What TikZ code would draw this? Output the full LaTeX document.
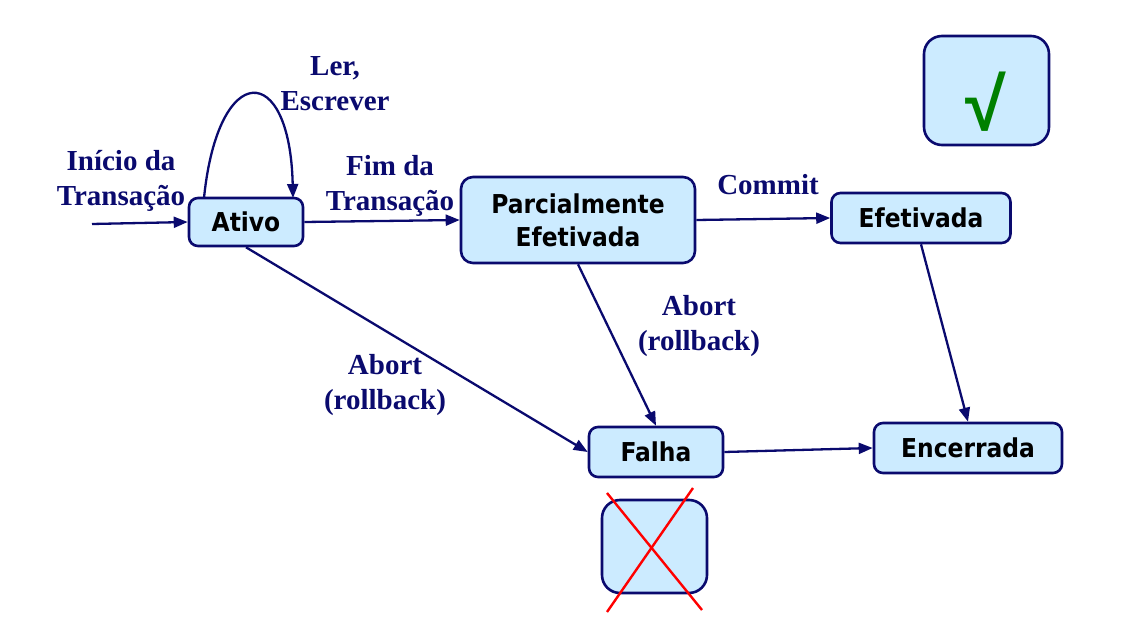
\documentclass[tikz,border=0pt]{standalone}
\usepackage{fontspec}
\setmainfont{Liberation Serif}
\newfontfamily\boxfont{DejaVu Sans Condensed}
\newfontfamily\symfont{Liberation Sans}
\usetikzlibrary{arrows.meta}
\definecolor{navy}{RGB}{10,10,110}
\definecolor{boxfill}{RGB}{204,235,255}
\definecolor{chk}{RGB}{0,128,0}
\tikzset{
  state/.style={draw=navy, line width=2.6pt, fill=boxfill, rounded corners=9pt, inner sep=0pt,
    font=\boxfont\bfseries\fontsize{26}{33}\selectfont, text=black, align=center},
  bigbox/.style={draw=navy, line width=2.6pt, fill=boxfill, rounded corners=18pt, inner sep=0pt},
  lbl/.style={font=\bfseries\fontsize{29}{35}\selectfont, text=navy, align=center, inner sep=0pt},
  conn/.style={draw=navy, line width=2.3pt, -{Triangle[length=14pt,width=11pt]}}
}
\begin{document}
\begin{tikzpicture}[x=1pt,y=-1pt]
\useasboundingbox (0,0) rectangle (1135,628);
% states
\node[state, minimum width=114pt, minimum height=48pt] (ativo) at (246,222) {Ativo};
\node[state, minimum width=234pt, minimum height=86pt, rounded corners=12pt] (parc) at (578,220) {Parcialmente\\Efetivada};
\node[state, minimum width=179pt, minimum height=50pt] (efet) at (921,218) {Efetivada};
\node[state, minimum width=188pt, minimum height=50pt] (enc) at (968,448) {Encerrada};
\node[state, minimum width=134pt, minimum height=50pt] (falha) at (656,452) {Falha};
% decorative boxes
\node[bigbox, minimum width=125pt, minimum height=109pt] (okbox) at (986.5,90.5) {};
\node[font=\symfont\bfseries\fontsize{74}{74}\selectfont, text=chk, inner sep=0pt] (okmark) at (986,102) {√};
\node[bigbox, minimum width=105pt, minimum height=93pt] (xbox) at (654.5,546.5) {};
\coordinate (x1a) at (607,493);
\coordinate (x1b) at (702,610);
\coordinate (x2a) at (693,488);
\coordinate (x2b) at (607,612);
\draw[red, line width=2.4pt] (x1a) -- (x1b);
\draw[red, line width=2.4pt] (x2a) -- (x2b);
% connectors
\coordinate (inicio) at (92,224);
\coordinate (ls) at (204,198);
\coordinate (le) at (293,198);
\draw[conn] (inicio) -- (ativo.west);
\draw[conn] (ls) .. controls (218,60) and (290,60) .. (le);
\draw[conn] (ativo.east) -- (parc.west);
\draw[conn] (parc.east) -- (efet.west);
\draw[conn] (parc.south) -- (falha.north);
\draw[conn] (ativo.south) -- (falha.west);
\draw[conn] (falha.east) -- (enc.west);
\draw[conn] (efet.south) -- (enc.north);
% labels
\node[lbl] (l1) at (121,181) {Início da\\Transação};
\node[lbl] (l2) at (335,84) {Ler,\\Escrever};
\node[lbl] (l3) at (390,186) {Fim da\\Transação};
\node[lbl] (l4) at (768,185) {Commit};
\node[lbl] (l5) at (699,326) {Abort\\(rollback)};
\node[lbl] (l6) at (385,385) {Abort\\(rollback)};
\end{tikzpicture}
\end{document}
